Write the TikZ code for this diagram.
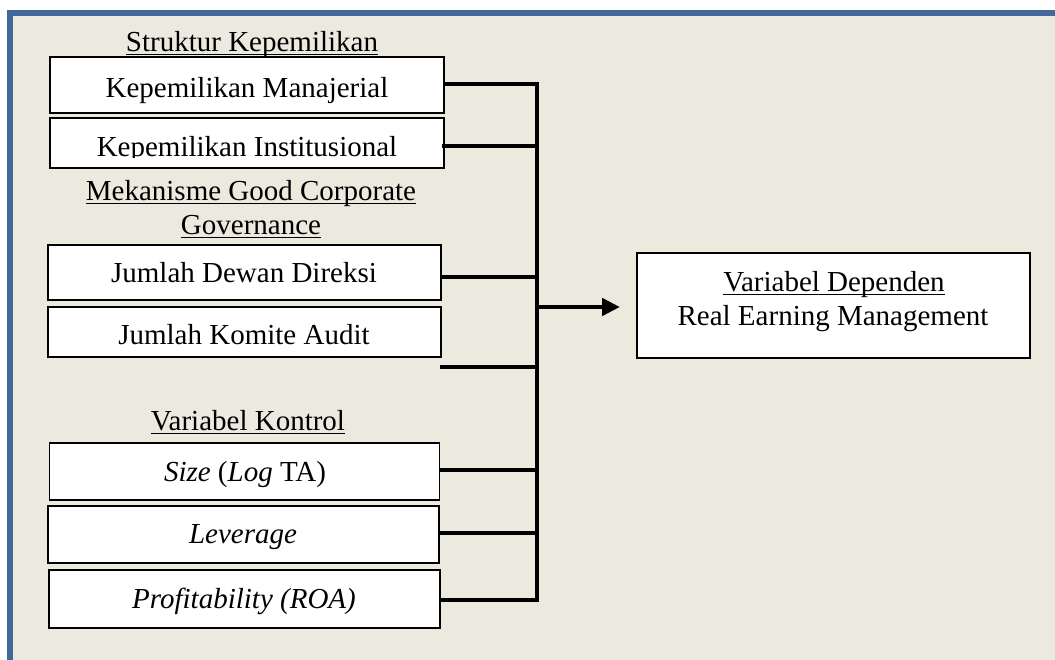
\documentclass[tikz,border=0pt]{standalone}
\usepackage{fontspec}
\setmainfont{Liberation Serif}
\usetikzlibrary{arrows.meta}
\definecolor{framebl}{HTML}{44689C}
\definecolor{bgbeige}{HTML}{ECE9DF}
\begin{document}
\begin{tikzpicture}[x=1pt,y=-1pt,
  every node/.style={font=\fontsize{29}{34}\selectfont, inner sep=0pt},
  varbox/.style={draw=black, fill=white, line width=1.8pt},
  txt/.style={anchor=base},
  uline/.style={line width=1.4pt, black},
  conn/.style={line width=4.5pt, black},
  busline/.style={line width=4.5pt, black, line cap=rect}]
\useasboundingbox (0,0) rectangle (1055,659);
\clip (0,0) rectangle (1055,659);
% frame
\draw[fill=bgbeige, draw=framebl, line width=6pt] (10,13) rectangle (1075,690);
% headings
\node[txt] (h1) at (252,51) {Struktur Kepemilikan};
\node[txt] (h2a) at (251,200) {Mekanisme Good Corporate};
\node[txt] (h2b) at (251,234) {Governance};
\node[txt] (h3) at (248,430) {Variabel Kontrol};
\foreach \n in {h1,h2a,h2b,h3} {
  \draw[uline] ([yshift=-3.5pt]\n.base west) -- ([yshift=-3.5pt]\n.base east);
}
% boxes
\node[varbox, minimum width=394pt, minimum height=56pt] (b1) at (247,85) {};
\node[txt] (t1) at (247,97) {Kepemilikan Manajerial};
\node[varbox, minimum width=394pt, minimum height=50pt] (b2) at (247,143) {};
\begin{scope}
\clip (51,119) rectangle (443,157);
\node[txt] (t2) at (247,156) {Kepemilikan Institusional};
\end{scope}
\node[varbox, minimum width=393pt, minimum height=55pt] (b3) at (244.5,272.5) {};
\node[txt] (t3) at (244,282) {Jumlah Dewan Direksi};
\node[varbox, minimum width=393pt, minimum height=50pt] (b4) at (244.5,332) {};
\node[txt] (t4) at (244,344) {Jumlah Komite Audit};
\node[varbox, minimum width=390pt, minimum height=57pt] (b5) at (244.5,471.5) {};
\node[txt] (t5) at (245,481) {\textit{Size} (\textit{Log} TA)};
\node[varbox, minimum width=391pt, minimum height=57pt] (b6) at (243.5,534.5) {};
\node[txt] (t6) at (243,543) {\textit{Leverage}};
\node[varbox, minimum width=391pt, minimum height=58pt] (b7) at (244.5,599) {};
\node[txt] (t7) at (244,608) {\textit{Profitability (ROA)}};
% dependent box
\node[varbox, minimum width=393pt, minimum height=105pt] (dep) at (833.5,305.5) {};
\node[txt] (d1) at (834,291) {Variabel Dependen};
\draw[uline] ([yshift=-3.5pt]d1.base west) -- ([yshift=-3.5pt]d1.base east);
\node[txt] (d2) at (833,325) {Real Earning Management};
% connectors
\coordinate (bustop) at (537,84);
\coordinate (busbot) at (537,600);
\coordinate (free) at (440,367);
\draw[busline] (bustop) -- (busbot);
\draw[busline] (b1.east |- bustop) -- (bustop);
\draw[conn] ([xshift=-3pt]b2.east |- 0,146) -- (537,146);
\draw[conn] (b3.east |- 0,277) -- (537,277);
\draw[conn] (free) -- (free -| bustop);
\draw[conn] (b5.east |- 0,470) -- (537,470);
\draw[conn] (b6.east |- 0,533) -- (537,533);
\draw[busline] (b7.east |- busbot) -- (busbot);
\draw[conn, -{Triangle[length=18pt,width=17pt]}] (537,307) -- (620,307);
\end{tikzpicture}
\end{document}
